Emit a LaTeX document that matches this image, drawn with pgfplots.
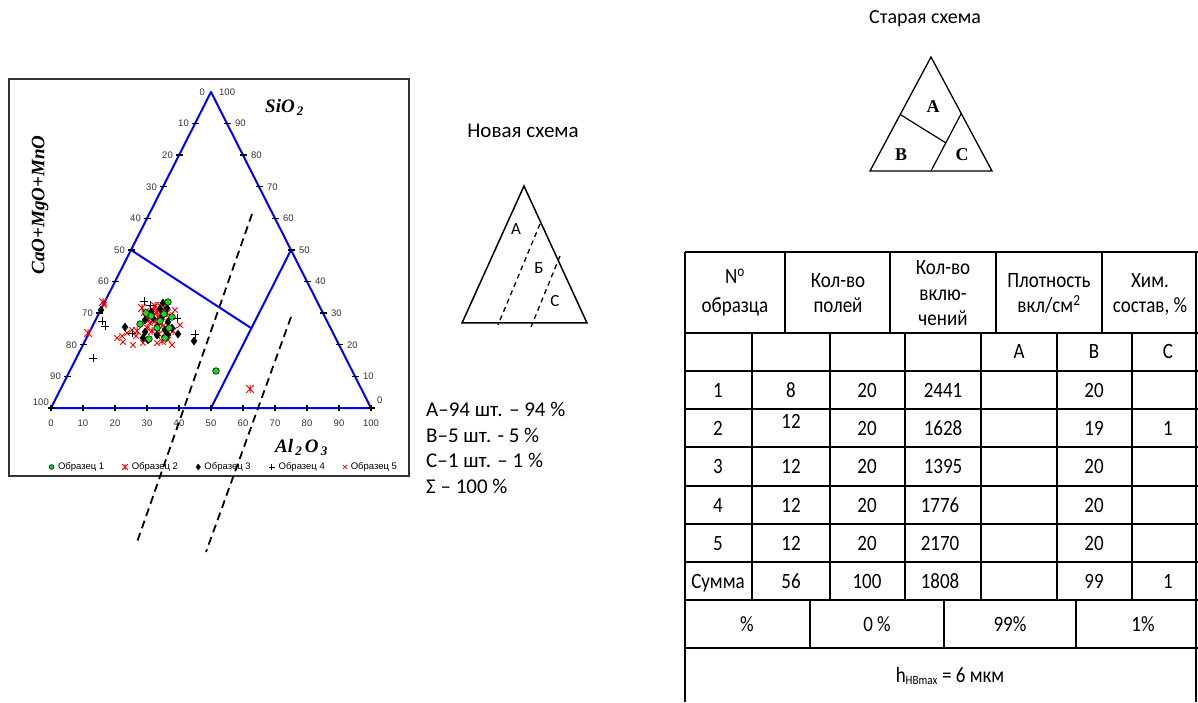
\documentclass[border=0pt]{standalone}
\usepackage{fontspec}
\setmainfont{Liberation Sans}
\newfontfamily\calfont{Carlito}
\newfontfamily\tmsfont{Liberation Serif}
\usepackage{graphicx}
\usepackage{pgfplots}
\pgfplotsset{compat=1.18}

\definecolor{tblue}{RGB}{0,0,255}
\definecolor{tgreen}{RGB}{20,220,20}
\definecolor{tred}{RGB}{255,0,0}
\definecolor{ticklab}{HTML}{333333}

% Excel-like "star" marker: x with a vertical stroke
\pgfdeclareplotmark{xstar}{%
  \pgfpathmoveto{\pgfqpoint{-\pgfplotmarksize}{-\pgfplotmarksize}}%
  \pgfpathlineto{\pgfqpoint{\pgfplotmarksize}{\pgfplotmarksize}}%
  \pgfpathmoveto{\pgfqpoint{-\pgfplotmarksize}{\pgfplotmarksize}}%
  \pgfpathlineto{\pgfqpoint{\pgfplotmarksize}{-\pgfplotmarksize}}%
  \pgfpathmoveto{\pgfqpoint{0pt}{-\pgfplotmarksize}}%
  \pgfpathlineto{\pgfqpoint{0pt}{\pgfplotmarksize}}%
  \pgfusepathqstroke}

\newcommand\tfont{\calfont\fontsize{19}{22}\selectfont}
% table cell text, centred at (x,y) in pixel units
\newcommand\tc[3]{\node[font=\tfont, anchor=base, inner sep=0pt] at (#1,#2+7) {\scalebox{1}[1.15]{#3}};}
\newcommand\ticklbl{\fontsize{9.5}{11}\selectfont\color{ticklab}}
\newcommand\ttl{\tmsfont\bfseries\itshape\fontsize{19}{22}\selectfont}
\newcommand\sub[1]{\raisebox{-3pt}{\fontsize{13}{13}\selectfont\,#1}}

\begin{document}
\begin{tikzpicture}
\begin{axis}[
    scale only axis,
    width=1198pt, height=702pt,
    xmin=0, xmax=1198, ymin=0, ymax=702,
    y dir=reverse,
    hide axis,
    clip=false,
    legend columns=5,
    legend style={
        at={(axis cs:49,467)}, anchor=west,
        draw=none, fill=none, inner sep=0pt,
        font=\fontsize{9.5}{11}\selectfont,
        /tikz/every odd column/.append style={column sep=2pt},
        /tikz/every even column/.append style={column sep=16pt},
    },
    legend image code/.code={\draw[#1] plot coordinates {(3pt,0pt)};},
]
\addlegendimage{only marks, mark=*, mark size=2.4pt, mark options={fill=tgreen, draw=black, line width=0.6pt}}
\addlegendentry{Образец 1}
\addlegendimage{only marks, mark=xstar, mark size=2.8pt, tred, line width=0.9pt}
\addlegendentry{Образец 2}
\addlegendimage{only marks, mark=diamond*, mark size=3pt, black}
\addlegendentry{Образец 3}
\addlegendimage{only marks, mark=+, mark size=3pt, black, line width=0.8pt}
\addlegendentry{Образец 4}
\addlegendimage{only marks, mark=x, mark size=2.8pt, tred, line width=0.8pt}
\addlegendentry{Образец 5}

% ternary frame and field boundaries (pixel coordinates)
\addplot[tblue, line width=2pt, line join=round, forget plot] coordinates {(51,408) (211,92) (371,408) (51,408)};
\addplot[tblue, line width=2pt, forget plot] coordinates {(131,250) (251,328)};
\addplot[tblue, line width=2pt, forget plot] coordinates {(291,250) (211,408)};

% Образец 2
\addplot[only marks, mark=xstar, mark size=3.8pt, tred, line width=1pt, forget plot] coordinates {
(103,302) (88,333) (250,389) (142,308) (153,310) (157,312) (150,314) (160,306)
(164,310) (148,319) (155,321) (161,323) (170,316) (147,328) (152,331) (159,334)
(166,332) (173,331) (145,312) (158,317) (162,341) (137,331) (155,306) (167,313)};
% Образец 5
\addplot[only marks, mark=x, mark size=3.8pt, tred, line width=1pt, forget plot] coordinates {
(117,338) (122,336) (123,342) (133,345) (132,330) (180,325) (143,343) (157,343)
(172,345) (136,336) (127,333) (175,310) (168,340) (104,305) (150,323) (163,326)};
% Образец 3
\addplot[only marks, mark=diamond*, mark size=4pt, black, forget plot] coordinates {
(101,310) (125,327) (163,303) (167,308) (151,312) (145,320) (153,318) (162,317)
(168,322) (165,330) (145,332) (143,338) (148,340) (157,335) (168,335) (178,334)
(194,341) (157,327) (172,328) (160,309)};
% Образец 1
\addplot[only marks, mark=*, mark size=3.3pt, mark options={fill=tgreen, draw=black, line width=0.6pt}, forget plot] coordinates {
(168,302) (140,324) (151,316) (164,314) (157,328) (169,328) (149,339) (165,338)
(160,321) (146,313) (216,371) (172,317)};
% Образец 4
\addplot[only marks, mark=+, mark size=3.8pt, black, line width=1pt, forget plot] coordinates {
(144,301) (102,321) (105,326) (93,358) (177,318) (195,334) (132,333) (150,305)};
\end{axis}

\begin{scope}[x=1pt, y=-1pt, shift={(0pt,702pt)}]
% chart frame
\draw[line width=1.2pt, black!80] (9,79) rectangle (409,476);

% ternary ticks and labels
\foreach \k in {0,...,10} {
  \pgfmathsetmacro\lx{211-16*\k}
  \pgfmathsetmacro\rx{211+16*\k}
  \pgfmathsetmacro\yy{92+31.6*\k}
  \pgfmathsetmacro\bx{51+32*\k}
  \pgfmathtruncatemacro\vl{10*\k}
  \pgfmathtruncatemacro\vr{100-10*\k}
  \ifnum\k>0
    \draw[line width=1.4pt] (\lx-3.5,\yy) -- (\lx+3.5,\yy);
    \draw[line width=1.4pt] (\rx-3.5,\yy) -- (\rx+3.5,\yy);
  \fi
  \draw[line width=1.2pt] (\bx,405) -- (\bx,411);
  \ifnum\k<10
    \node[anchor=east, inner sep=0pt, font=\ticklbl] at (\lx-6,\yy) {\vl};
    \node[anchor=west, inner sep=0pt, font=\ticklbl] at (\rx+8,\yy) {\vr};
  \fi
  \node[inner sep=0pt, font=\ticklbl] at (\bx,423) {\vl};
}
\node[anchor=east, inner sep=0pt, font=\ticklbl] at (49,402) {100};
\node[anchor=west, inner sep=0pt, font=\ticklbl] at (377,400) {0};

% axis titles
\node[anchor=base west, inner sep=0pt, font=\ttl] at (265,113) {SiO\sub{2}};
\node[rotate=90, inner sep=0pt, font=\ttl] at (40,205) {CaO+MgO+MnO};
\node[anchor=base west, inner sep=0pt, font=\ttl] at (275,452) {Al\sub{2}\,O\sub{3}};

% field boundaries drawn over the chart
\draw[line width=1.8pt, dash pattern=on 8pt off 5pt] (252,214) -- (136,545);
\draw[line width=1.8pt, dash pattern=on 8pt off 5pt] (291,317) -- (206,552);

% new scheme
\node[font=\calfont\fontsize{21}{24}\selectfont] at (523,131) {Новая схема};
\draw[line width=1.5pt] (524,186) -- (462,323) -- (587,323) -- cycle;
\draw[line width=1.3pt, dash pattern=on 5pt off 4pt] (540,224) -- (498,325);
\draw[line width=1.3pt, dash pattern=on 5pt off 4pt] (560,256) -- (531,327);
\node[font=\calfont\fontsize{17}{20}\selectfont] at (516,229) {А};
\node[font=\calfont\fontsize{17}{20}\selectfont] at (539,268) {Б};
\node[font=\calfont\fontsize{17}{20}\selectfont] at (555,301) {С};

% old scheme
\node[font=\calfont\fontsize{20}{24}\selectfont] at (925,19) {Старая схема};
\draw[line width=1.3pt] (931,57) -- (870,171) -- (992,171) -- cycle;
\draw[line width=1.2pt] (901,115) -- (946,143);
\draw[line width=1.2pt] (961.5,113) -- (931,171);
\node[font=\tmsfont\bfseries\fontsize{18}{20}\selectfont] at (933,107) {A};
\node[font=\tmsfont\bfseries\fontsize{18}{20}\selectfont] at (901,155) {B};
\node[font=\tmsfont\bfseries\fontsize{18}{20}\selectfont] at (962,155) {C};

% counts
\foreach \yy/\tx in {409/{А–94 шт. – 94 \%}, 435/{В–5 шт. - 5 \%}, 460/{С–1 шт. – 1 \%}, 486/{Σ – 100 \%}} {
  \node[anchor=west, inner sep=0pt, font=\calfont\fontsize{21}{24}\selectfont] at (426,\yy) {\tx};
}

% table grid
\begin{scope}[line width=2.2pt]
\draw (685,252) -- (685,702);
\draw (1196,252) -- (1196,702);
\foreach \yy in {252,333,371,409,447,486,524,562,600,648} {\draw (685,\yy) -- (1198,\yy);}
\foreach \xx in {785,890,996,1102} {\draw (\xx,252) -- (\xx,333);}
\foreach \xx in {752,830,905,981,1057,1132} {\draw (\xx,333) -- (\xx,600);}
\foreach \xx in {810,944,1076} {\draw (\xx,600) -- (\xx,648);}
\end{scope}

% table header
\tc{735}{277}{N\textsuperscript{o}}
\tc{735}{306}{образца}
\tc{838}{281}{Кол-во}
\tc{838}{306}{полей}
\tc{943}{268}{Кол-во}
\tc{943}{294}{вклю-}
\tc{943}{319}{чений}
\tc{1049}{281}{Плотность}
\tc{1049}{306}{вкл/см\textsuperscript{2}}
\tc{1150}{281}{Хим.}
\tc{1150}{306}{состав, \%}
\tc{1019}{352}{А}
\tc{1094}{352}{В}
\tc{1168}{352}{С}

% table body
\tc{718}{390}{1}\tc{791}{390}{8}\tc{867}{390}{20}\tc{943}{390}{2441}\tc{1094}{390}{20}
\tc{718}{428}{2}\tc{791}{422}{12}\tc{867}{428}{20}\tc{943}{428}{1628}\tc{1094}{428}{19}\tc{1168}{428}{1}
\tc{718}{466}{3}\tc{791}{466}{12}\tc{867}{466}{20}\tc{943}{466}{1395}\tc{1094}{466}{20}
\tc{718}{505}{4}\tc{791}{505}{12}\tc{867}{505}{20}\tc{940}{505}{1776}\tc{1094}{505}{20}
\tc{718}{543}{5}\tc{791}{543}{12}\tc{867}{543}{20}\tc{940}{543}{2170}\tc{1094}{543}{20}
\tc{718}{581}{Сумма}\tc{791}{581}{56}\tc{867}{581}{100}\tc{940}{581}{1808}\tc{1094}{581}{99}\tc{1168}{581}{1}
\tc{747}{624}{\%}\tc{877}{624}{0 \%}\tc{1010}{624}{99\%}\tc{1143}{624}{1\%}
\tc{950}{675}{h\textsubscript{\fontsize{11}{12}\selectfont HBmax} = 6 мкм}
\end{scope}

\pgfresetboundingbox
\useasboundingbox (0,0) rectangle (1198pt,702pt);
\end{tikzpicture}
\end{document}
